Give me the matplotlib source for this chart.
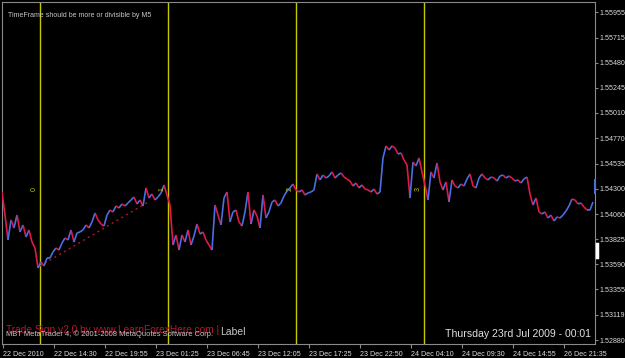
import matplotlib
matplotlib.use("Agg")
import matplotlib.pyplot as plt
import numpy as np
from matplotlib.collections import LineCollection

plt.rcParams["font.family"] = ["Liberation Sans", "DejaVu Sans"]

# close prices, one sample every ~3 px of the original chart
close = [
    1.54268, 1.54052, 1.53818, 1.54006, 1.53931, 1.54052, 1.53893, 1.53959, 1.53846, 1.53912, 1.53799, 1.53743,
    1.53556, 1.53612, 1.53574, 1.53649, 1.53649, 1.53706, 1.53743, 1.53724, 1.53790, 1.53837, 1.53818, 1.53912,
    1.53799, 1.53884, 1.53893, 1.53912, 1.53959, 1.53931, 1.53987, 1.54071, 1.54006, 1.53968, 1.53949, 1.54052,
    1.54099, 1.54081, 1.54137, 1.54118, 1.54156, 1.54137, 1.54165, 1.54193, 1.54221, 1.54156, 1.54193, 1.54137,
    1.54306, 1.54212, 1.54249, 1.54193, 1.54221, 1.54259, 1.54334, 1.54240, 1.54146, 1.53771, 1.53865, 1.53724,
    1.53865, 1.53799, 1.53912, 1.53771, 1.53856, 1.53968, 1.53874, 1.53893, 1.53818, 1.53771, 1.53724, 1.54146,
    1.54052, 1.53959, 1.54212, 1.54268, 1.53987, 1.54081, 1.54099, 1.53987, 1.53949, 1.54081, 1.54268, 1.53968,
    1.54099, 1.54043, 1.53931, 1.54240, 1.54024, 1.54081, 1.54174, 1.54193, 1.54137, 1.54165, 1.54231, 1.54277,
    1.54306, 1.54343, 1.54287, 1.54268, 1.54287, 1.54240, 1.54259, 1.54268, 1.54287, 1.54437, 1.54381, 1.54427,
    1.54399, 1.54418, 1.54456, 1.54399, 1.54427, 1.54446, 1.54409, 1.54390, 1.54371, 1.54324, 1.54352, 1.54306,
    1.54334, 1.54296, 1.54287, 1.54268, 1.54296, 1.54249, 1.54268, 1.54587, 1.54699, 1.54662, 1.54699, 1.54681,
    1.54624, 1.54634, 1.54568, 1.54521, 1.54212, 1.54549, 1.54512, 1.54587, 1.54456, 1.54334, 1.54193, 1.54456,
    1.54399, 1.54540, 1.54362, 1.54287, 1.54362, 1.54174, 1.54381, 1.54324, 1.54306, 1.54343, 1.54324, 1.54390,
    1.54437, 1.54324, 1.54306, 1.54399, 1.54437, 1.54399, 1.54381, 1.54409, 1.54399, 1.54371, 1.54418, 1.54427,
    1.54399, 1.54418, 1.54399, 1.54371, 1.54381, 1.54352, 1.54390, 1.54409, 1.54249, 1.54146, 1.54212, 1.54081,
    1.54062, 1.54081, 1.54024, 1.54052, 1.53996, 1.54034, 1.54024, 1.54052, 1.54090, 1.54137, 1.54202, 1.54193,
    1.54156, 1.54165, 1.54127, 1.54099, 1.54099, 1.54174,
]

price_ticks = [1.55955, 1.55715, 1.55480, 1.55245, 1.55010, 1.54770, 1.54535,
               1.54300, 1.54060, 1.53825, 1.53590, 1.53355, 1.53119, 1.52880]

time_labels = ["22 Dec 2010", "22 Dec 14:30", "22 Dec 19:55", "23 Dec 01:25",
               "23 Dec 06:45", "23 Dec 12:05", "23 Dec 17:25", "23 Dec 22:50",
               "24 Dec 04:10", "24 Dec 09:30", "24 Dec 14:55", "26 Dec 21:35"]
time_pos = [0.33 + 17 * k for k in range(len(time_labels))]

# day separators and their numbers
sep_pos = [12.67, 55.33, 98.0, 140.67]
sep_names = ["0", "1", "2", "3"]

# dotted trendline (start/end bar and price)
trend_x = [12.67, 49.33]
trend_y = [1.53574, 1.54184]

bg = "black"
txt = "#dcdcdc"
grey = "#8a8a8a"

fig = plt.figure(figsize=(6.25, 3.58), dpi=100, facecolor=bg)
ax = fig.add_axes([2 / 625, 14 / 358, 593 / 625, 342 / 358], facecolor=bg)

x = np.arange(len(close))
y = np.array(close)
pts = np.column_stack([x, y])
segs = np.stack([pts[:-1], pts[1:]], axis=1)
cols = ["#4a6fe3" if y[i + 1] >= y[i] else "#e0194a" for i in range(len(y) - 1)]
ax.add_collection(LineCollection(segs, colors=cols, linewidths=1.2, zorder=3))

for p, n in zip(sep_pos, sep_names):
    ax.axvline(p, color="#c8c800", lw=1, zorder=2)
    ax.text(p - 2.0, 1.54296, n, color="#c8c800", fontsize=5, rotation=90,
            ha="center", va="center", zorder=4)

ax.plot(trend_x, trend_y, color="#b01820", lw=1, ls=(0, (1.5, 2.5)), zorder=2)

ax.set_xlim(0, 197.67)
ax.set_ylim(1.52843, 1.56049)

ax.yaxis.tick_right()
ax.set_yticks(price_ticks)
ax.set_yticklabels([f"{v:.5f}" for v in price_ticks])
ax.set_xticks(time_pos)
ax.set_xticklabels(time_labels, ha="left")
ax.tick_params(axis="both", colors=grey, labelcolor=txt, labelsize=5.1,
               length=2.5, width=0.8, pad=0.5)
ax.tick_params(axis="x", pad=2, length=3)

for s in ax.spines.values():
    s.set_color(grey)
    s.set_linewidth(0.8)
ax.spines["top"].set_linestyle((0, (1, 1)))

# texts
ax.text(0.01, 0.96, "TimeFrame should be more or divisible by M5", transform=ax.transAxes,
        color="#c8c8c8", fontsize=5, ha="left", va="center")
ax.text(0.006, 0.042, "Trade Sign v2.0 by www.LearnForexHere.com |", transform=ax.transAxes,
        color="#b01830", fontsize=7.3, ha="left", va="center")
ax.text(0.006, 0.03, "MBT MetaTrader 4, \u00a9 2001-2008 MetaQuotes Software Corp.",
        transform=ax.transAxes, color="#c8c8c8", fontsize=5.4, ha="left", va="center")
ax.text(0.368, 0.036, "Label", transform=ax.transAxes,
        color="#c8c8c8", fontsize=7.5, ha="left", va="center")
ax.text(0.993, 0.03, "Thursday 23rd Jul 2009 - 00:01", transform=ax.transAxes,
        color="#e0e0e0", fontsize=7.6, ha="right", va="center")

# current price markers on the price scale
ax.plot([197.67, 197.67], [1.54380, 1.54260], color="#4a6fe3", lw=1.5, clip_on=False, zorder=5)
ax.plot([198.3, 198.3], [1.53780, 1.53660], color="white", lw=2.5, clip_on=False, zorder=5)

fig.savefig("out.png", dpi=100, facecolor=bg)
